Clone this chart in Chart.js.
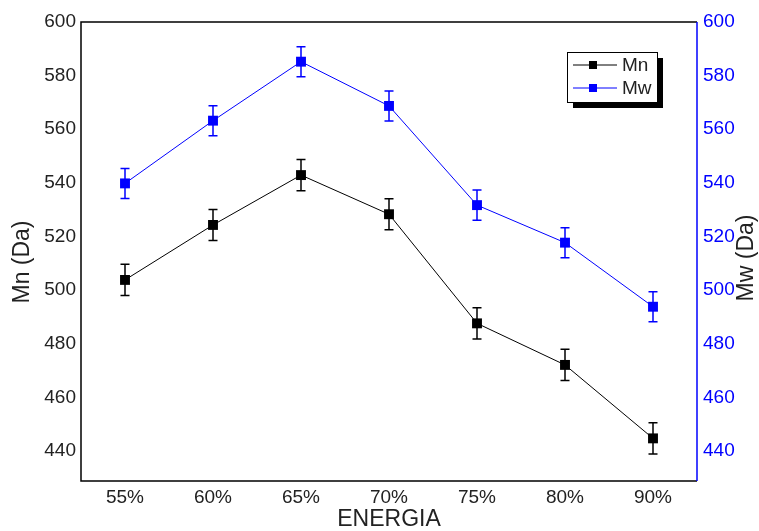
<!DOCTYPE html>
<html>
<head>
<meta charset="utf-8">
<script src="https://cdn.jsdelivr.net/npm/chart.js"></script>
<style>
  html, body { margin: 0; padding: 0; background: #fff; }
  #wrap { width: 759px; height: 531px; }
</style>
</head>
<body>
<div id="wrap"><canvas id="chart" width="759" height="531"></canvas></div>
<script>
// data
var categories = ['55%', '60%', '65%', '70%', '75%', '80%', '90%'];
var mnValues = [503.8, 524.3, 542.9, 528.3, 487.6, 472.1, 444.7];
var mwValues = [539.8, 563.2, 585.2, 568.7, 531.7, 517.7, 493.8];
var mnErrors = [5.8, 5.8, 5.8, 5.8, 5.8, 5.8, 5.8];
var mwErrors = [5.6, 5.6, 5.6, 5.6, 5.6, 5.6, 5.6];
var yTicks = [440, 460, 480, 500, 520, 540, 560, 580, 600];

var FONT = "'Liberation Sans', Arial, sans-serif";
var BLUE = '#0000ff';

// error bars, drawn under the markers
var errorBars = {
    id: 'errorBars',
    beforeDatasetsDraw: function(chart) {
        var ctx = chart.ctx;
        var sets = [
            { meta: chart.getDatasetMeta(0), vals: mnValues, errs: mnErrors, scale: chart.scales.y, color: '#000' },
            { meta: chart.getDatasetMeta(1), vals: mwValues, errs: mwErrors, scale: chart.scales.y2, color: BLUE }
        ];
        ctx.save();
        ctx.lineWidth = 1.5;
        sets.forEach(function(s) {
            ctx.strokeStyle = s.color;
            s.meta.data.forEach(function(pt, i) {
                var x = pt.x;
                var yTop = s.scale.getPixelForValue(s.vals[i] + s.errs[i]);
                var yBot = s.scale.getPixelForValue(s.vals[i] - s.errs[i]);
                ctx.beginPath();
                ctx.moveTo(x, yTop); ctx.lineTo(x, yBot);
                ctx.moveTo(x - 4.5, yTop); ctx.lineTo(x + 4.5, yTop);
                ctx.moveTo(x - 4.5, yBot); ctx.lineTo(x + 4.5, yBot);
                ctx.stroke();
            });
        });
        ctx.restore();
    }
};

// frame, axis titles and boxed legend
var decorations = {
    id: 'decorations',
    afterDraw: function(chart) {
        var ctx = chart.ctx;
        var a = chart.chartArea;
        ctx.save();
        ctx.lineWidth = 1.5;
        ctx.strokeStyle = '#000';
        ctx.beginPath();
        ctx.moveTo(a.right, a.top); ctx.lineTo(a.left, a.top);
        ctx.lineTo(a.left, a.bottom); ctx.lineTo(a.right, a.bottom);
        ctx.stroke();
        ctx.strokeStyle = BLUE;
        ctx.beginPath();
        ctx.moveTo(a.right, a.top); ctx.lineTo(a.right, a.bottom);
        ctx.stroke();

        // axis titles
        ctx.fillStyle = '#222';
        ctx.font = '23px ' + FONT;
        ctx.textAlign = 'center';
        ctx.textBaseline = 'middle';
        ctx.fillText('ENERGIA', (a.left + a.right) / 2, 520);

        ctx.save();
        ctx.translate(23, 262);
        ctx.rotate(-Math.PI / 2);
        ctx.fillText('Mn (Da)', 0, 0);
        ctx.restore();

        ctx.save();
        ctx.translate(747, 258);
        ctx.rotate(-Math.PI / 2);
        ctx.fillText('Mw (Da)', 0, 0);
        ctx.restore();

        // legend box with shadow
        var bx = 567, by = 52, bw = 90, bh = 50;
        ctx.fillStyle = '#000';
        ctx.fillRect(bx + 6, by + 6, bw, bh);
        ctx.fillStyle = '#fff';
        ctx.fillRect(bx, by, bw, bh);
        ctx.lineWidth = 1;
        ctx.strokeStyle = '#000';
        ctx.strokeRect(bx + 0.5, by + 0.5, bw, bh);

        var rows = [
            { label: 'Mn', color: '#000', y: 65 },
            { label: 'Mw', color: BLUE, y: 88 }
        ];
        rows.forEach(function(r) {
            ctx.strokeStyle = r.color;
            ctx.lineWidth = 1;
            ctx.beginPath();
            ctx.moveTo(573, r.y); ctx.lineTo(617, r.y);
            ctx.stroke();
            ctx.fillStyle = r.color;
            ctx.fillRect(593 - 4, r.y - 4, 8, 8);
            ctx.fillStyle = '#222';
            ctx.font = '19px ' + FONT;
            ctx.textAlign = 'left';
            ctx.textBaseline = 'middle';
            ctx.fillText(r.label, 622, r.y + 1);
        });
        ctx.restore();
    }
};

new Chart(document.getElementById('chart').getContext('2d'), {
    type: 'line',
    data: {
        labels: categories,
        datasets: [{
            label: 'Mn',
            data: mnValues,
            yAxisID: 'y',
            borderColor: '#000',
            backgroundColor: '#000',
            borderWidth: 1,
            pointStyle: 'rect',
            pointRadius: 7,
            pointBorderWidth: 0,
            tension: 0
        }, {
            label: 'Mw',
            data: mwValues,
            yAxisID: 'y2',
            borderColor: BLUE,
            backgroundColor: BLUE,
            borderWidth: 1,
            pointStyle: 'rect',
            pointRadius: 7,
            pointBorderWidth: 0,
            tension: 0
        }]
    },
    options: {
        responsive: false,
        animation: false,
        layout: { padding: { top: 22 } },
        plugins: {
            legend: { display: false },
            tooltip: { enabled: false }
        },
        scales: {
            x: {
                offset: true,
                grid: { display: false, drawTicks: false },
                border: { display: false },
                ticks: { color: '#222', font: { family: FONT, size: 19 }, padding: 5 },
                afterFit: function(s) { s.height = 50; }
            },
            y: {
                position: 'left',
                min: 428.8,
                max: 600,
                afterBuildTicks: function(s) { s.ticks = yTicks.map(function(v) { return { value: v }; }); },
                grid: { display: false, drawTicks: false },
                border: { display: false },
                ticks: { color: '#222', font: { family: FONT, size: 19 }, padding: 5 },
                afterFit: function(s) { s.width = 81; }
            },
            y2: {
                position: 'right',
                min: 428.8,
                max: 600,
                afterBuildTicks: function(s) { s.ticks = yTicks.map(function(v) { return { value: v }; }); },
                grid: { display: false, drawTicks: false },
                border: { display: false },
                ticks: { color: BLUE, font: { family: FONT, size: 19 }, padding: 6 },
                afterFit: function(s) { s.width = 62; }
            }
        }
    },
    plugins: [errorBars, decorations]
});
</script>
</body>
</html>
